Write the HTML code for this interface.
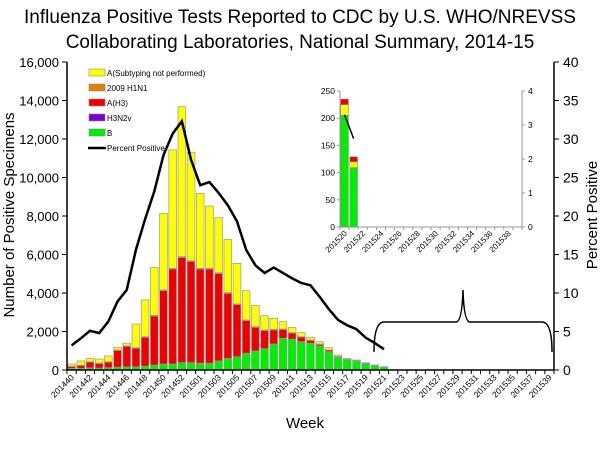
<!DOCTYPE html>
<html><head><meta charset="utf-8"><style>
body{margin:0;background:#fff;}
svg{display:block;font-family:"Liberation Sans",Arial,sans-serif;}
</style></head><body>
<svg id="chart" width="600" height="450" viewBox="0 0 600 450">
<text x="300" y="23" text-anchor="middle" font-size="19">Influenza Positive Tests Reported to CDC by U.S. WHO/NREVSS</text>
<text x="300" y="48" text-anchor="middle" font-size="19">Collaborating Laboratories, National Summary, 2014-15</text>
<text transform="translate(14,215) rotate(-90)" text-anchor="middle" font-size="15">Number of Positive Specimens</text>
<text transform="translate(597,215) rotate(-90)" text-anchor="middle" font-size="15">Percent Positive</text>
<text x="305" y="428" text-anchor="middle" font-size="15">Week</text>
<g id="main"></g>
<g id="inset"></g>
<path d="M374,352 Q374,322 384,322 L456,322 Q462,322 463,290 Q464,322 470,322 L542,322 Q552,322 552,352" fill="none" stroke="#000" stroke-width="1.5"/>
<g id="legend"></g>
</svg>
<script>
const weeks=[];
for(let w=40;w<=53;w++)weeks.push('2014'+w);
for(let w=1;w<=39;w++)weeks.push('2015'+(w<10?'0'+w:w));
const totals=[310,470,600,570,730,1180,1390,2390,3640,5330,8140,11430,13680,11310,9180,8520,7910,6790,5540,4120,3360,2820,2690,2510,2220,1940,1700,1470,1160,780,610,520,380,260,170];
const h3Tops=[200,250,430,360,430,1040,1260,1160,1730,2840,4160,5280,5890,5680,5280,5280,5050,4020,3430,2600,2250,2080,2110,2130,1940,1730,1560,1350,1040,710,560,480,350,240,160];
const bVals=[80,90,110,100,120,150,160,160,200,250,310,310,380,380,350,350,470,600,690,870,990,1110,1350,1650,1600,1470,1390,1250,950,660,540,460,330,230,150];
const h1n1=[30,20,20,20,20,30,30,30,30,40,40,40,40,40,40,40,40,40,30,30,30,30,30,20,20,20,20,20,10,10,10,0,0,0,0];
const pctPos=[3.2,4.1,5.1,4.8,6.3,8.9,10.4,15.6,19.6,23.2,27.9,30.7,32.3,27.3,24.0,24.4,23.0,21.4,19.3,15.6,13.6,12.6,13.3,12.6,11.9,11.3,11.0,9.5,7.9,6.5,5.8,5.3,4.2,3.5,2.7];
const yTicks=[0,2000,4000,6000,8000,10000,12000,14000,16000];
const y2Ticks=[0,5,10,15,20,25,30,35,40];
const insetWeeks=['201520','201521','201522','201523','201524','201525','201526','201527','201528','201529','201530','201531','201532','201533','201534','201535','201536','201537','201538','201539'];
const insetTotals=[235,129];
const insetRed=[225,120];
const insetB=[205,109];
const insetPct=[3.3,2.6];
const insetYTicks=[0,50,100,150,200,250];
const insetY2Ticks=[0,1,2,3,4];
const NS='http://www.w3.org/2000/svg';
function mk(p,t,a){const e=document.createElementNS(NS,t);for(const k in a)e.setAttribute(k,a[k]);p.appendChild(e);return e;}
const L=67,R=554,T=62,B=370;
const bw=(R-L)/weeks.length;
const x=i=>L+bw*(i+0.5);
const y=v=>B-v/16000*(B-T);
const y2=v=>B-v/40*(B-T);
const g=document.getElementById('main');
for(let i=0;i<totals.length;i++){
  const segs=[[0,bVals[i],'#00ee00','b'],[bVals[i],h3Tops[i]-h1n1[i],'#ee0000','h3'],[h3Tops[i]-h1n1[i],h3Tops[i],'#e08000','h1n1'],[h3Tops[i],totals[i],'#ffff00','unsubtyped']];
  for(const s of segs){if(s[1]<=s[0])continue;
    const r=mk(g,'rect',{x:x(i)-bw*0.42,y:y(s[1]),width:bw*0.84,height:y(s[0])-y(s[1]),fill:s[2],stroke:'#999','stroke-width':0.7});
    
    
  }
}
const ln=mk(g,'polyline',{points:pctPos.map((v,i)=>x(i)+','+y2(v)).join(' '),fill:'none',stroke:'#000','stroke-width':2.5});


mk(g,'line',{x1:L,y1:T,x2:L,y2:B,stroke:'#000','stroke-width':1.5});
mk(g,'line',{x1:R,y1:T,x2:R,y2:B,stroke:'#000','stroke-width':1.5});
mk(g,'line',{x1:L,y1:B,x2:R,y2:B,stroke:'#000','stroke-width':1.5});
for(const v of yTicks){mk(g,'line',{x1:L-5,y1:y(v),x2:L,y2:y(v),stroke:'#000'});
  const t=mk(g,'text',{x:L-8,y:y(v)+5,'text-anchor':'end','font-size':13});t.textContent=v.toLocaleString('en-US');
  }
for(const v of y2Ticks){mk(g,'line',{x1:R,y1:y2(v),x2:R+5,y2:y2(v),stroke:'#000'});
  const t=mk(g,'text',{x:R+9,y:y2(v)+5,'font-size':14});t.textContent=v;
  }
for(let i=0;i<=weeks.length;i++)mk(g,'line',{x1:L+bw*i,y1:B,x2:L+bw*i,y2:B+4,stroke:'#000'});
for(let i=0;i<weeks.length;i+=2){
  const t=mk(g,'text',{transform:`translate(${x(i)+3},${B+8}) rotate(-45)`,'text-anchor':'end','font-size':8.5});
  t.textContent=weeks[i];
  }
const gi=document.getElementById('inset');
const IL=340,IR=522,IT=91,IB=227;
const ibw=(IR-IL)/insetWeeks.length;
const ix=i=>IL+ibw*(i+0.5);
const iy=v=>IB-v/250*(IB-IT);
const iy2=v=>IB-v/4*(IB-IT);
mk(gi,'line',{x1:IL,y1:IT,x2:IL,y2:IB,stroke:'#999'});
mk(gi,'line',{x1:IR,y1:IT,x2:IR,y2:IB,stroke:'#999'});
mk(gi,'line',{x1:IL,y1:IB,x2:IR,y2:IB,stroke:'#999'});
for(let i=0;i<insetTotals.length;i++){
  const segs=[[0,insetB[i],'#00ee00','b'],[insetB[i],insetRed[i],'#ffff00','unsubtyped'],[insetRed[i],insetTotals[i],'#ee0000','h3']];
  for(const s of segs){const r=mk(gi,'rect',{x:ix(i)-ibw*0.42,y:iy(s[1]),width:ibw*0.84,height:iy(s[0])-iy(s[1]),fill:s[2],stroke:'#888','stroke-width':0.6});
    
    }
}
const iln=mk(gi,'polyline',{points:insetPct.map((v,i)=>ix(i)+','+iy2(v)).join(' '),fill:'none',stroke:'#000','stroke-width':1.5});


for(const v of insetYTicks){mk(gi,'line',{x1:IL-3,y1:iy(v),x2:IL,y2:iy(v),stroke:'#999'});
  const t=mk(gi,'text',{x:IL-5,y:iy(v)+3,'text-anchor':'end','font-size':8.5});t.textContent=v;
  }
for(const v of insetY2Ticks){mk(gi,'line',{x1:IR,y1:iy2(v),x2:IR+3,y2:iy2(v),stroke:'#999'});
  const t=mk(gi,'text',{x:IR+6,y:iy2(v)+3,'font-size':8.5});t.textContent=v;
  }
for(let i=0;i<=insetWeeks.length;i++)mk(gi,'line',{x1:IL+ibw*i,y1:IB,x2:IL+ibw*i,y2:IB+3,stroke:'#999'});
for(let i=0;i<insetWeeks.length;i+=2){
  const t=mk(gi,'text',{transform:`translate(${ix(i)+3},${IB+7}) rotate(-45)`,'text-anchor':'end','font-size':8});
  t.textContent=insetWeeks[i];
  }
const lg=document.getElementById('legend');
const items=[['A(Subtyping not performed)','#ffff00'],['2009 H1N1','#e08000'],['A(H3)','#ee0000'],['H3N2v','#7a00d0'],['B','#00ee00'],['Percent Positive',null]];
items.forEach((it,k)=>{const yy=73+k*15;
  const grp=mk(lg,'g',{});
  
  
  if(it[1])mk(grp,'rect',{x:89,y:yy-4,width:16,height:7,fill:it[1],stroke:'#888','stroke-width':0.6});
  else mk(grp,'line',{x1:88,y1:yy,x2:106,y2:yy,stroke:'#000','stroke-width':2.5});
  const t=mk(grp,'text',{x:107,y:yy+3,'font-size':8});t.textContent=it[0];});
</script>
</body></html>
